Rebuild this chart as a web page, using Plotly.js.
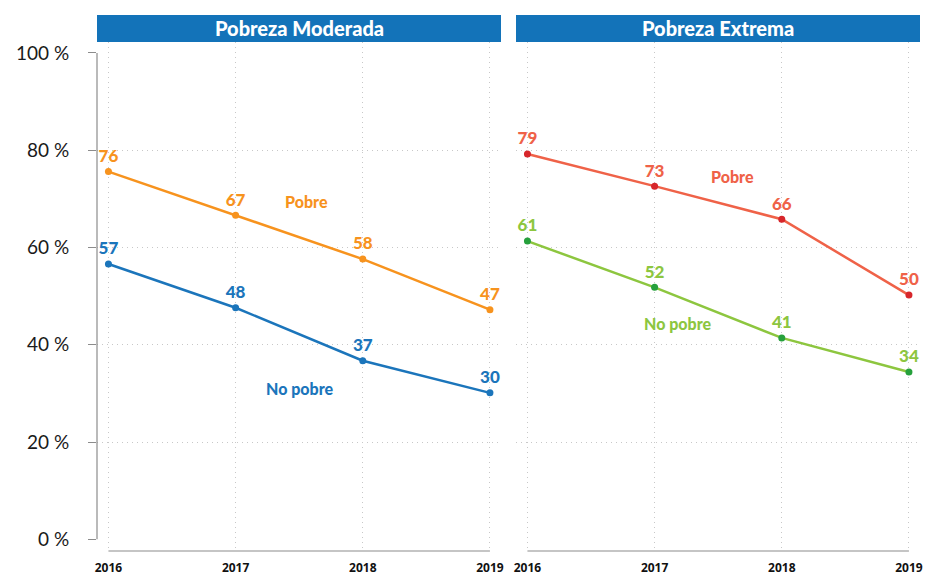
<!DOCTYPE html>
<html>
<head>
<meta charset="utf-8">
<script src="https://cdn.plot.ly/plotly-3.0.1.min.js"></script>
<style>html,body{margin:0;padding:0;background:#fff;}#chart{width:925px;height:576px;}</style>
</head>
<body>
<div id="chart"></div>
<script>
const years = [2016, 2017, 2018, 2019];
const panelTitles = ["Pobreza Moderada", "Pobreza Extrema"];
const moderadaPobre = [75.6, 66.6, 57.6, 47.2];
const moderadaNoPobre = [56.6, 47.6, 36.7, 30.1];
const extremaPobre = [79.2, 72.6, 65.8, 50.2];
const extremaNoPobre = [61.3, 51.8, 41.4, 34.4];
const yTickVals = [0, 20, 40, 60, 80, 100];
const yTickText = ["0 %", "20 %", "40 %", "60 %", "80 %", "100 %"];
const seriesNames = ["Pobre", "No pobre"];

const labelFont = "Lato, 'Open Sans', sans-serif";

function series(xa, ya, vals, lineColor, dotColor, textColor) {
  return {
    x: years, y: vals, xaxis: xa, yaxis: ya,
    type: 'scatter', mode: 'lines+markers+text',
    line: {color: lineColor, width: 2.5},
    marker: {color: dotColor, size: 7},
    text: vals.map(v => String(Math.round(v))),
    textposition: 'top center',
    textfont: {family: labelFont, size: 17, color: textColor, weight: 900},
    cliponaxis: false, hoverinfo: 'skip', showlegend: false
  };
}

const data = [
  series('x', 'y', moderadaPobre, '#F7931E', '#F7931E', '#F7931E'),
  series('x', 'y', moderadaNoPobre, '#1B75BB', '#1B75BB', '#1B75BB'),
  series('x2', 'y2', extremaPobre, '#EF6248', '#D7262B', '#EF6248'),
  series('x2', 'y2', extremaNoPobre, '#8DC63F', '#26A03C', '#8DC63F')
];

const xRange = [2015.91, 2019.087];
const yRange = [-2.41, 102.24];
const gridColor = '#c8c8c8';
const gridDash = '1px,4px';

function xaxis(domain, anchor) {
  return {
    domain: domain, anchor: anchor, range: xRange,
    tickvals: years, ticktext: years.map(String),
    showgrid: true, gridcolor: gridColor, griddash: gridDash, gridwidth: 1,
    zeroline: false, showline: false, ticks: '',
    ticklabelstandoff: 8,
    tickfont: {family: "'Open Sans', sans-serif", size: 12, color: '#111', weight: 'bold'},
    fixedrange: true
  };
}
function yaxis(anchor, showLabels) {
  return {
    domain: [0.0434, 0.9271], anchor: anchor, range: yRange,
    tickvals: yTickVals, ticktext: yTickText,
    showticklabels: showLabels,
    ticks: showLabels ? 'outside' : '', ticklen: 8, tickcolor: '#8c8c8c', tickwidth: 1,
    ticklabelstandoff: 15,
    tickfont: {family: labelFont, size: 19, color: '#1a1a1a', weight: 400},
    showgrid: false, zeroline: false, showline: false,
    minor: {tickvals: [20, 40, 60, 80], showgrid: true, gridcolor: gridColor, griddash: gridDash, gridwidth: 1, ticks: ''},
    fixedrange: true
  };
}

const leftDom = [97/925, 501/925];
const rightDom = [516/925, 920/925];

const shapes = [];
const annotations = [];
[[leftDom, 'x', 'y'], [rightDom, 'x2', 'y2']].forEach((p, i) => {
  const dom = p[0];
  shapes.push({type: 'rect', xref: 'paper', yref: 'paper', x0: dom[0], x1: dom[1],
    y0: 1 - 42/576, y1: 1 - 15/576, fillcolor: '#1373B9', line: {width: 0}, layer: 'above'});
  annotations.push({xref: 'paper', yref: 'paper', x: (dom[0] + dom[1]) / 2, y: 1 - 28.5/576,
    text: panelTitles[i], showarrow: false, xanchor: 'center', yanchor: 'middle',
    font: {family: labelFont, size: 20, color: '#ffffff', weight: 900}});
  shapes.push({type: 'line', xref: p[1], yref: p[2] + ' domain', x0: years[0], x1: years[years.length-1],
    y0: 0, y1: 0, line: {color: '#8c8c8c', width: 1.2}});
});
shapes.push({type: 'line', xref: 'x domain', yref: 'y', x0: 0, x1: 0, y0: 0, y1: 100,
  line: {color: '#8c8c8c', width: 1.2}});

function seriesLabel(xa, ya, x, y, text, color) {
  annotations.push({xref: xa, yref: ya, x: x, y: y, text: text, showarrow: false,
    font: {family: labelFont, size: 16, color: color, weight: 900}});
}
seriesLabel('x', 'y', 2017.56, 69.5, seriesNames[0], '#F7931E');
seriesLabel('x', 'y', 2017.51, 30.9, seriesNames[1], '#1B75BB');
seriesLabel('x2', 'y2', 2017.61, 74.6, seriesNames[0], '#EF6248');
seriesLabel('x2', 'y2', 2017.18, 44.3, seriesNames[1], '#8DC63F');

const layout = {
  width: 925, height: 576,
  margin: {l: 0, r: 0, t: 0, b: 0},
  paper_bgcolor: '#ffffff', plot_bgcolor: '#ffffff',
  xaxis: xaxis(leftDom, 'y'),
  yaxis: yaxis('x', true),
  xaxis2: xaxis(rightDom, 'y2'),
  yaxis2: yaxis('x2', false),
  shapes: shapes, annotations: annotations,
  showlegend: false
};

Plotly.newPlot('chart', data, layout, {displayModeBar: false, staticPlot: true});
</script>
</body>
</html>
